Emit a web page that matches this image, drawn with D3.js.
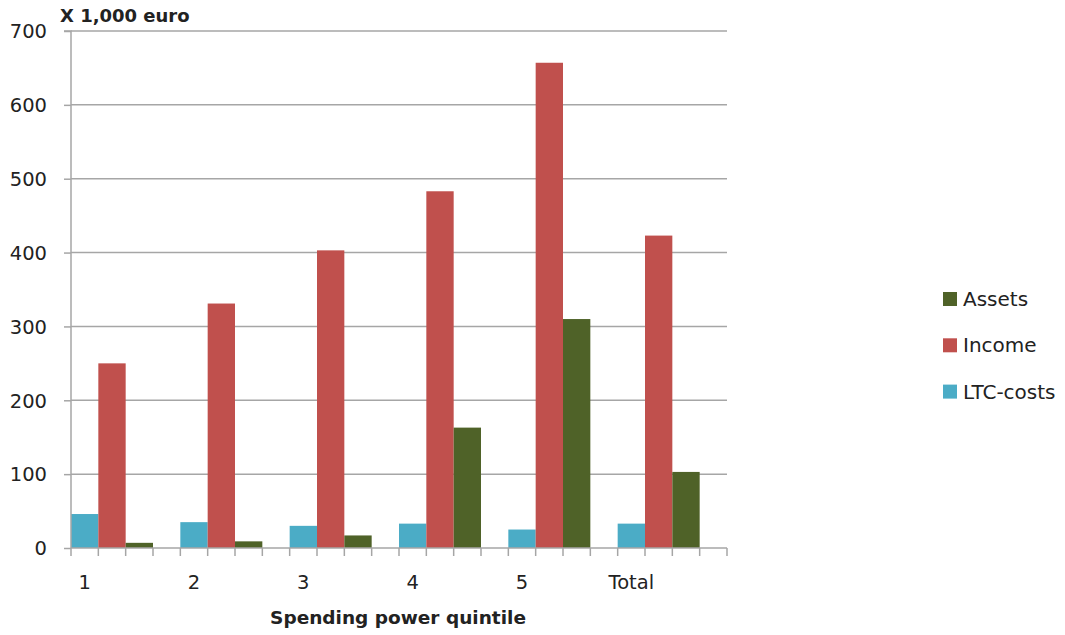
<!DOCTYPE html>
<html><head><meta charset="utf-8">
<script src="https://cdn.jsdelivr.net/npm/d3@7"></script>
<style>
body{margin:0;background:#fff;}
text{font-family:"DejaVu Sans",sans-serif;fill:#222;}
</style></head><body>
<svg id="c" width="1065" height="635"></svg>
<script>
const categories = ["1","2","3","4","5","Total"];
const seriesNames = ["LTC-costs","Income","Assets"];
const ltcCosts = [46, 35, 30, 33, 25, 33];
const income = [250, 331, 403, 483, 657, 423];
const assets = [7, 9, 17, 163, 310, 103];
const yTicks = [0,100,200,300,400,500,600,700];
const legendOrder = ["Assets","Income","LTC-costs"];
const colors = {"LTC-costs":"#4BACC6","Income":"#C0504D","Assets":"#4F6228"};
const values = {"LTC-costs":ltcCosts,"Income":income,"Assets":assets};

const svg = d3.select("#c");
const L = 71, R = 727, T = 31, B = 548;

// 4 slots per category: 3 series + gap
const slots = [];
categories.forEach(c => { seriesNames.forEach(s => slots.push(c+"|"+s)); slots.push(c+"|gap"); });
const x = d3.scaleBand().domain(slots).range([L,R]).padding(0);
const y = d3.scaleLinear().domain([0,700]).range([B,T]);

// gridlines
svg.append("g").selectAll("line").data(yTicks.filter(d=>d>0)).join("line")
  .attr("x1",L).attr("x2",R).attr("y1",d=>y(d)).attr("y2",d=>y(d))
  .attr("stroke","#a6a6a6").attr("stroke-width",1.5);

// bars
const barData = [];
categories.forEach((c,i)=>seriesNames.forEach(s=>barData.push({c,s,v:values[s][i]})));
svg.append("g").selectAll("rect").data(barData).join("rect")
  .attr("x",d=>x(d.c+"|"+d.s)).attr("width",x.bandwidth())
  .attr("y",d=>y(d.v)).attr("height",d=>B-y(d.v))
  .attr("fill",d=>colors[d.s]);

// y axis
const yAxis = svg.append("g").attr("transform",`translate(${L},0)`)
  .call(d3.axisLeft(y).tickValues(yTicks).tickSize(7).tickPadding(17));
yAxis.select(".domain").attr("stroke","#a6a6a6").attr("stroke-width",1.5).attr("d",`M-7,${T}H0V${B}`);
yAxis.selectAll(".tick line").attr("stroke","#a6a6a6").attr("stroke-width",1.5);
yAxis.selectAll(".tick text").style("font-size","19.5px").style("font-family","DejaVu Sans").attr("fill","#222").attr("dy","0.35em");

// x axis: ticks at slot boundaries
const boundaries = slots.map(s=>x(s)).concat([R]);
const xg = svg.append("g");
xg.append("line").attr("x1",L).attr("x2",R).attr("y1",B).attr("y2",B)
  .attr("stroke","#a6a6a6").attr("stroke-width",1.5);
xg.selectAll("line.t").data(boundaries).join("line").attr("class","t")
  .attr("x1",d=>d).attr("x2",d=>d).attr("y1",B).attr("y2",B+8)
  .attr("stroke","#a6a6a6").attr("stroke-width",1.5);
xg.selectAll("text").data(categories).join("text")
  .attr("x",c=>x(c+"|LTC-costs") + x.bandwidth()/2)
  .attr("y",589).attr("text-anchor","middle").style("font-size","19.5px").text(d=>d);

// titles
svg.append("text").attr("x",60).attr("y",22).style("font-size","18px").style("font-weight","bold").text("X 1,000 euro");
svg.append("text").attr("x",398).attr("y",624).attr("text-anchor","middle").style("font-size","18.5px").style("font-weight","bold").text("Spending power quintile");

// legend
const lg = svg.append("g").selectAll("g").data(legendOrder).join("g")
  .attr("transform",(d,i)=>`translate(943,${299+i*46.3})`);
lg.append("rect").attr("x",0).attr("y",-7).attr("width",14).attr("height",14).attr("fill",d=>colors[d]);
lg.append("text").attr("x",20).attr("y",0).attr("dy","0.35em").style("font-size","20px").text(d=>d);
</script>
</body></html>
